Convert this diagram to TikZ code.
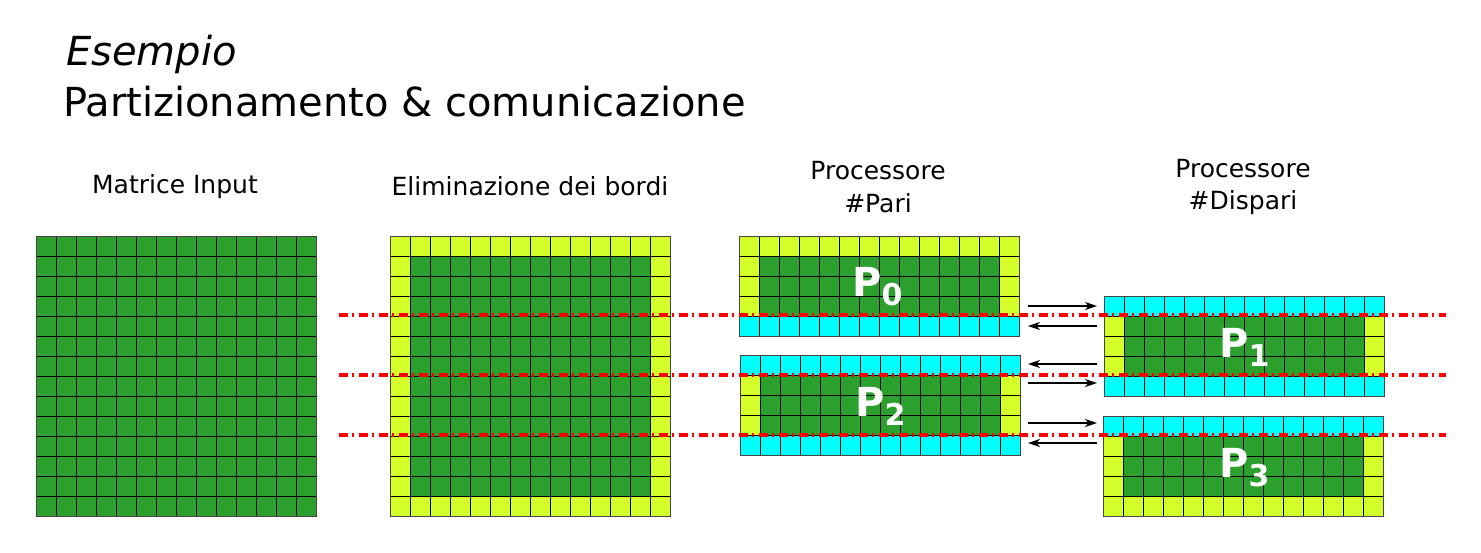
\documentclass[tikz,border=0pt]{standalone}
\usepackage{fontspec}
\setmainfont{DejaVu Sans}
\usetikzlibrary{arrows.meta}
\definecolor{cgreen}{RGB}{44,160,44}
\definecolor{cyellow}{RGB}{212,255,42}
\definecolor{ccyan}{RGB}{0,255,255}
\definecolor{cred}{RGB}{255,0,0}
\definecolor{cframe}{RGB}{70,70,70}
% one row of 14 cells: x0, y, left colour, middle colour, right colour
\newcommand\blkrow[5]{%
  \fill[#3] (#1,#2) rectangle ++(20,20);
  \fill[#4] (#1+20,#2) rectangle ++(240,20);
  \fill[#5] (#1+260,#2) rectangle ++(20,20);
}
% inner grid lines: x0, y0, rows
\newcommand\blklines[3]{%
  \foreach \i in {1,...,13} {\draw[gridline] (#1+\i*20,#2) -- ++(0,#3*20);}
  \foreach \j in {1,...,#3} {\draw[gridline] (#1,#2+\j*20) -- ++(280,0);}
}
\newcommand\plabel[1]{\fontsize{40}{40}\selectfont\bfseries P\raisebox{-9pt}{\fontsize{30}{30}\selectfont #1}}
\tikzset{
  gridline/.style={black, line width=0.9pt},
  blk/.style={draw=cframe, line width=1pt, anchor=north west, minimum width=280pt, inner sep=0pt, outer sep=0pt},
  cutline/.style={cred, line width=3.8pt, dash pattern=on 9pt off 4pt on 2pt off 5pt},
  comm/.style={black, line width=1.4pt, -{Stealth[length=12pt,width=8pt,inset=3.5pt]}},
  lbl/.style={anchor=base, inner sep=0pt, font=\fontsize{25}{25}\selectfont},
  plbl/.style={anchor=base west, inner sep=0pt, text=white},
}
\begin{document}
\begin{tikzpicture}[x=1pt, y=-1pt]
\useasboundingbox (0,0) rectangle (1481,552);

% titles
\node[anchor=base west, inner sep=0pt, font=\fontsize{40}{40}\selectfont\itshape] (tit1) at (66,65) {Esempio};
\node[anchor=base west, inner sep=0pt, font=\fontsize{40}{40}\selectfont] (tit2) at (63,116) {Partizionamento \& comunicazione};

% column labels
\node[lbl] (lab1) at (175,193) {Matrice Input};
\node[lbl] (lab2) at (530,195) {Eliminazione dei bordi};
\node[lbl] (lab3a) at (878,179) {Processore};
\node[lbl] (lab3b) at (878,212) {\#Pari};
\node[lbl] (lab4a) at (1243,177) {Processore};
\node[lbl] (lab4b) at (1243,209) {\#Dispari};

% Matrice input
\foreach \r in {0,...,13} {\blkrow{36}{236+\r*20}{cgreen}{cgreen}{cgreen}}
\blklines{36}{236}{14}
\node[blk, minimum height=280pt] (M) at (36,236) {};

% Eliminazione dei bordi
\blkrow{390}{236}{cyellow}{cyellow}{cyellow}
\foreach \r in {1,...,12} {\blkrow{390}{236+\r*20}{cyellow}{cgreen}{cyellow}}
\blkrow{390}{496}{cyellow}{cyellow}{cyellow}
\blklines{390}{236}{14}
\node[blk, minimum height=280pt] (E) at (390,236) {};

% P0
\blkrow{739}{236}{cyellow}{cyellow}{cyellow}
\foreach \r in {1,2,3} {\blkrow{739}{236+\r*20}{cyellow}{cgreen}{cyellow}}
\blkrow{739}{316}{ccyan}{ccyan}{ccyan}
\blklines{739}{236}{5}
\node[blk, minimum height=100pt] (P0) at (739,236) {};

% P2
\blkrow{740}{355}{ccyan}{ccyan}{ccyan}
\foreach \r in {1,2,3} {\blkrow{740}{355+\r*20}{cyellow}{cgreen}{cyellow}}
\blkrow{740}{435}{ccyan}{ccyan}{ccyan}
\blklines{740}{355}{5}
\node[blk, minimum height=100pt] (P2) at (740,355) {};

% P1
\blkrow{1104}{296}{ccyan}{ccyan}{ccyan}
\foreach \r in {1,2,3} {\blkrow{1104}{296+\r*20}{cyellow}{cgreen}{cyellow}}
\blkrow{1104}{376}{ccyan}{ccyan}{ccyan}
\blklines{1104}{296}{5}
\node[blk, minimum height=100pt] (P1) at (1104,296) {};

% P3
\blkrow{1103}{416}{ccyan}{ccyan}{ccyan}
\foreach \r in {1,2,3} {\blkrow{1103}{416+\r*20}{cyellow}{cgreen}{cyellow}}
\blkrow{1103}{496}{cyellow}{cyellow}{cyellow}
\blklines{1103}{416}{5}
\node[blk, minimum height=100pt] (P3) at (1103,416) {};

% processor labels
\node[plbl] (t0) at (852,296) {\plabel{0}};
\node[plbl] (t2) at (855,416) {\plabel{2}};
\node[plbl] (t1) at (1219,357) {\plabel{1}};
\node[plbl] (t3) at (1219,477) {\plabel{3}};

% cut lines
\coordinate (c1a) at (339,315); \coordinate (c1b) at (1446,315);
\coordinate (c2a) at (339,375); \coordinate (c2b) at (1446,375);
\coordinate (c3a) at (339,435); \coordinate (c3b) at (1446,435);
\draw[cutline] (c1a) -- (c1b);
\draw[cutline] (c2a) -- (c2b);
\draw[cutline] (c3a) -- (c3b);

% communication arrows
\foreach \k/\y in {1/306,2/326,3/364,4/383,5/423,6/443} {
  \coordinate (l\k) at (1028,\y);
  \coordinate (r\k) at (1097,\y);
}
\draw[comm] (l1) -- (r1);
\draw[comm] (r2) -- (l2);
\draw[comm] (r3) -- (l3);
\draw[comm] (l4) -- (r4);
\draw[comm] (l5) -- (r5);
\draw[comm] (r6) -- (l6);
\end{tikzpicture}
\end{document}
